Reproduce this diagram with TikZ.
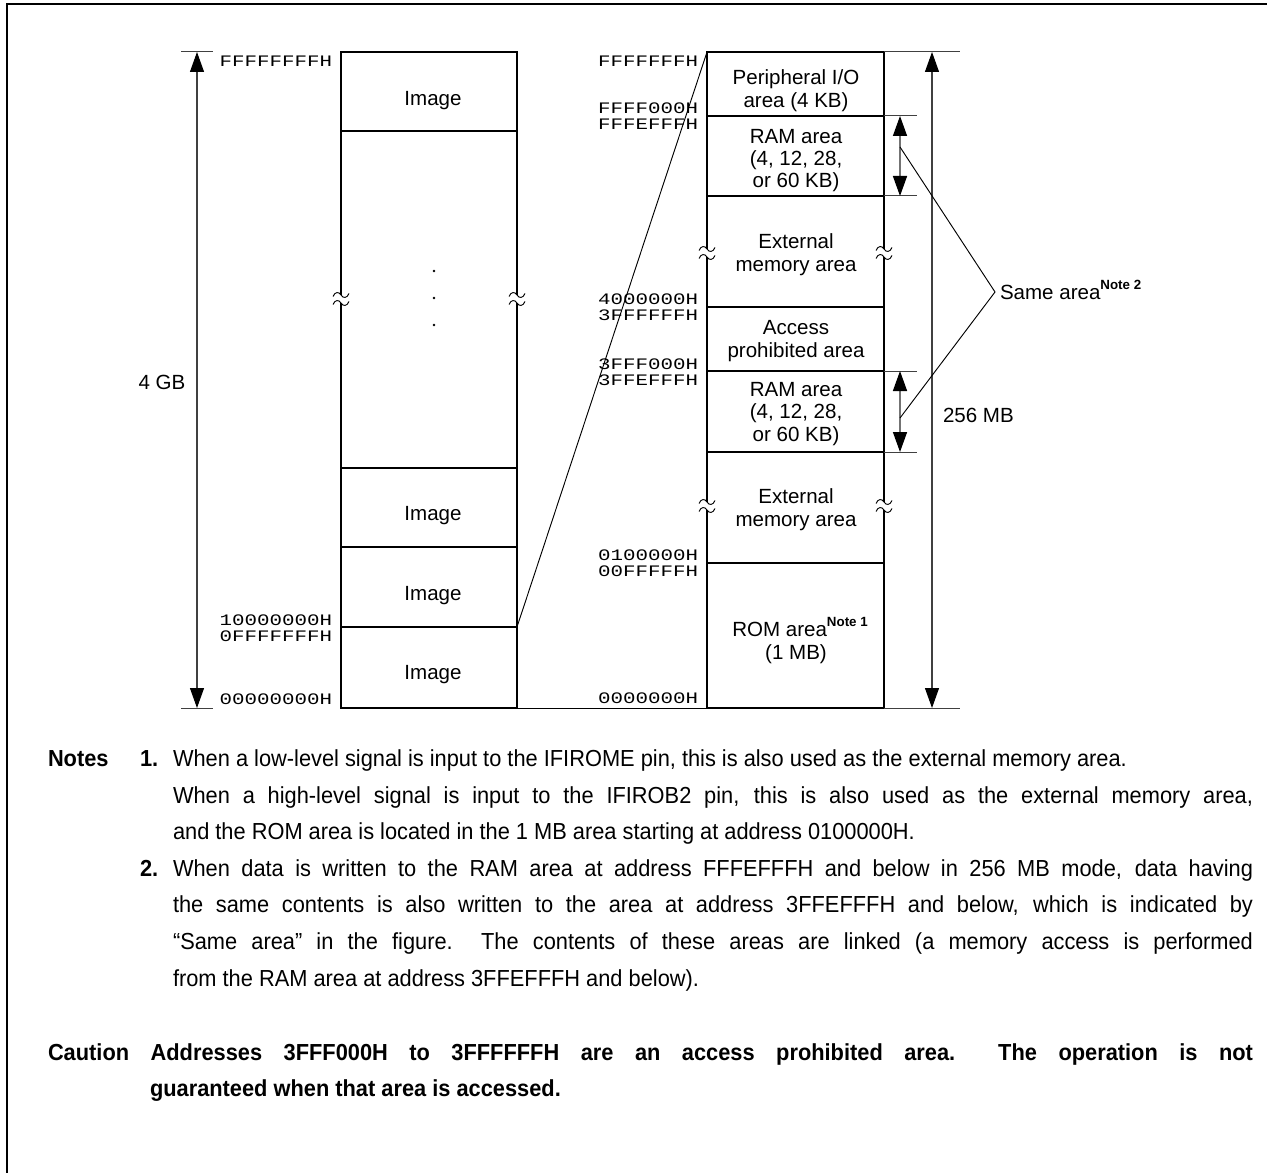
\documentclass[tikz,border=0pt]{standalone}
\usepackage{fontspec}
\setmainfont{Liberation Sans}
\newfontfamily\addrmono{Liberation Mono}[FakeStretch=1.3]
\newfontfamily\notefam{Liberation Sans}[FakeStretch=0.94]
\usetikzlibrary{arrows.meta}

\newcommand\figfont{\fontsize{15.4}{18}\selectfont}
\newcommand\addrfont{\addrmono\fontsize{12}{14}\selectfont}
\newcommand\notefont{\notefam\fontsize{17.4}{21}\selectfont}
\newcommand\notetag[1]{\raisebox{7pt}{\bfseries\fontsize{10}{12}\selectfont #1}}

\tikzset{
  every node/.style={inner sep=0pt, outer sep=0pt},
  figtext/.style={font=\figfont, text height=10.6pt, text depth=0pt},
  addr/.style={font=\addrfont, text height=8.2pt, text depth=0pt, anchor=east},
  notetext/.style={font=\notefont, text height=12pt, text depth=0pt, anchor=west},
  notebold/.style={notetext, font=\notefont\bfseries},
  memframe/.style={line width=1.7pt},
  divider/.style={line width=0.8pt},
  tick/.style={line width=0.75pt, draw=black!75},
  dimline/.style={line width=0.8pt, draw=black!75, {Triangle[length=15pt, width=10.5pt, color=black]}-{Triangle[length=15pt, width=10.5pt, color=black]}},
  ramline/.style={line width=1.1pt, draw=black!55, {Triangle[length=15pt, width=10.5pt, color=black]}-{Triangle[length=15pt, width=10.5pt, color=black]}},
  leader/.style={line width=0.7pt},
  brk/.pic={
    \fill[white] (-1.8,-4) rectangle (1.8,4);
    \draw[line width=0.7pt] (-8,-2.5) .. controls (-6,-7.5) and (-2,-7.5) .. (0,-4)
          .. controls (2,-0.5) and (6,-0.5) .. (8,-5.5);
    \draw[line width=0.7pt] (-8,5.5) .. controls (-6,0.5) and (-2,0.5) .. (0,4)
          .. controls (2,7.5) and (6,7.5) .. (8,2.5);
  },
}

\begin{document}
\begin{tikzpicture}[x=0.75pt, y=-0.75pt]
\useasboundingbox (0,0) rectangle (1267,1173);

% page frame
\draw[line width=1.1pt] (7,1173) -- (7,4) -- (1267,4);

% ---------- 4 GB address space ----------
\coordinate (Ltl) at (341,52);
\coordinate (Lbr) at (517,708);
\coordinate (Lsplit) at (517,627);
\draw[divider] (341,131) -- (517,131);
\draw[divider] (341,468) -- (517,468);
\draw[divider] (341,547) -- (517,547);
\draw[divider] (341,627) -- (517,627);
\draw[memframe] (Ltl) rectangle (Lbr);
\pic at (341,299) {brk};
\pic at (517,299) {brk};

\node[figtext] (img1) at (433,98) {Image};
\node[figtext] (img2) at (433,513) {Image};
\node[figtext] (img3) at (433,593) {Image};
\node[figtext] (img4) at (433,672) {Image};
\fill (434,271) circle[radius=1.3];
\fill (434,298) circle[radius=1.3];
\fill (434,325) circle[radius=1.3];

\node[addr] (la1) at (332,61) {FFFFFFFFH};
\node[addr] (la2) at (332,620) {10000000H};
\node[addr] (la3) at (332,636) {0FFFFFFFH};
\node[addr] (la4) at (332,699) {00000000H};

% 4 GB dimension
\coordinate (gT1) at (181,52);  \coordinate (gT2) at (213,52);
\coordinate (gB1) at (181,708); \coordinate (gB2) at (213,708);
\coordinate (gTop) at (197,52); \coordinate (gBot) at (197,708);
\draw[tick] (gT1) -- (gT2);
\draw[tick] (gB1) -- (gB2);
\draw[dimline] (gTop) -- (gBot);
\node[figtext] (fourgb) at (162,382) {4 GB};

% ---------- 256 MB expanded map ----------
\coordinate (Rtl) at (707,52);
\coordinate (Rbl) at (707,708);
\coordinate (Rbr) at (884,708);
\foreach \yy in {116,196,307,371,452,563}
  \draw[divider] (707,\yy) -- (884,\yy);
\draw[memframe] (Rtl) rectangle (Rbr);
\pic at (707,253) {brk};
\pic at (884,253) {brk};
\pic at (707,506) {brk};
\pic at (884,506) {brk};

% zoom connectors between the two maps
\draw[leader] (Lsplit) -- (Rtl);
\draw[leader] (Lbr) -- (Rbl);

\node[figtext] (pio1) at (796,77) {Peripheral I/O};
\node[figtext] (pio2) at (796,100) {area (4 KB)};
\node[figtext] (ramA1) at (796,136) {RAM area};
\node[figtext] (ramA2) at (796,158) {(4, 12, 28,};
\node[figtext] (ramA3) at (796,180) {or 60 KB)};
\node[figtext] (extA1) at (796,241) {External};
\node[figtext] (extA2) at (796,264) {memory area};
\node[figtext] (acc1) at (796,327) {Access};
\node[figtext] (acc2) at (796,350) {prohibited area};
\node[figtext] (ramB1) at (796,389) {RAM area};
\node[figtext] (ramB2) at (796,411) {(4, 12, 28,};
\node[figtext] (ramB3) at (796,434) {or 60 KB)};
\node[figtext] (extB1) at (796,496) {External};
\node[figtext] (extB2) at (796,519) {memory area};
\node[figtext] (rom1) at (800,629) {ROM area\notetag{Note 1}};
\node[figtext] (rom2) at (796,652) {(1 MB)};

\node[addr] (ra1) at (698,61) {FFFFFFFH};
\node[addr] (ra2) at (698,108) {FFFF000H};
\node[addr] (ra3) at (698,124) {FFFEFFFH};
\node[addr] (ra4) at (698,299) {4000000H};
\node[addr] (ra5) at (698,315) {3FFFFFFH};
\node[addr] (ra6) at (698,364) {3FFF000H};
\node[addr] (ra7) at (698,380) {3FFEFFFH};
\node[addr] (ra8) at (698,555) {0100000H};
\node[addr] (ra9) at (698,571) {00FFFFFH};
\node[addr] (ra10) at (698,698) {0000000H};

% RAM size markers
\foreach \yy in {116,196,371,452}
  \draw[tick] (884,\yy) -- (917,\yy);
\coordinate (rA1) at (900,116); \coordinate (rA2) at (900,196);
\coordinate (rB1) at (900,371); \coordinate (rB2) at (900,452);
\draw[ramline] (rA1) -- (rA2);
\draw[ramline] (rB1) -- (rB2);

% 256 MB dimension
\coordinate (mT1) at (884,52);  \coordinate (mT2) at (960,52);
\coordinate (mB1) at (884,708); \coordinate (mB2) at (960,708);
\coordinate (mTop) at (932,52); \coordinate (mBot) at (932,708);
\draw[tick] (mT1) -- (mT2);
\draw[tick] (mB1) -- (mB2);
\draw[dimline] (mTop) -- (mBot);
\node[figtext, anchor=west] (mb256) at (943,415) {256 MB};

% "Same area" callout
\node[figtext, anchor=west] (same) at (1000,292) {Same area\notetag{Note 2}};
\coordinate (sA) at (900,147);
\coordinate (sB) at (900,418);
\coordinate (apex) at (995,292);
\draw[leader] (sA) -- (apex) -- (sB);

% ---------- notes ----------
\node[notebold] (notes) at (48,758) {Notes};
\node[notebold] (n1) at (140,758) {1.};
\node[notetext] (n1a) at (173,758) {When a low-level signal is input to the IFIROME pin, this is also used as the external memory area.};
\node[notetext] (n1b) at (173,795) {\makebox[810pt][s]{When a high-level signal is input to the IFIROB2 pin, this is also used as the external memory area,}};
\node[notetext] (n1c) at (173,831) {and the ROM area is located in the 1 MB area starting at address 0100000H.};
\node[notebold] (n2) at (140,868) {2.};
\node[notetext] (n2a) at (173,868) {\makebox[810pt][s]{When data is written to the RAM area at address FFFEFFFH and below in 256 MB mode, data having}};
\node[notetext] (n2b) at (173,904) {\makebox[810pt][s]{the same contents is also written to the area at address 3FFEFFFH and below, which is indicated by}};
\node[notetext] (n2c) at (173,941) {\makebox[810pt][s]{“Same area” in the figure.\ \ The contents of these areas are linked (a memory access is performed}};
\node[notetext] (n2d) at (173,978) {from the RAM area at address 3FFEFFFH and below).};

\node[notebold] (caut1) at (48,1052) {\makebox[903.75pt][s]{Caution Addresses 3FFF000H to 3FFFFFFH are an access prohibited area.\ \ The operation is not}};
\node[notebold] (caut2) at (150,1088) {guaranteed when that area is accessed.};
\end{tikzpicture}
\end{document}
